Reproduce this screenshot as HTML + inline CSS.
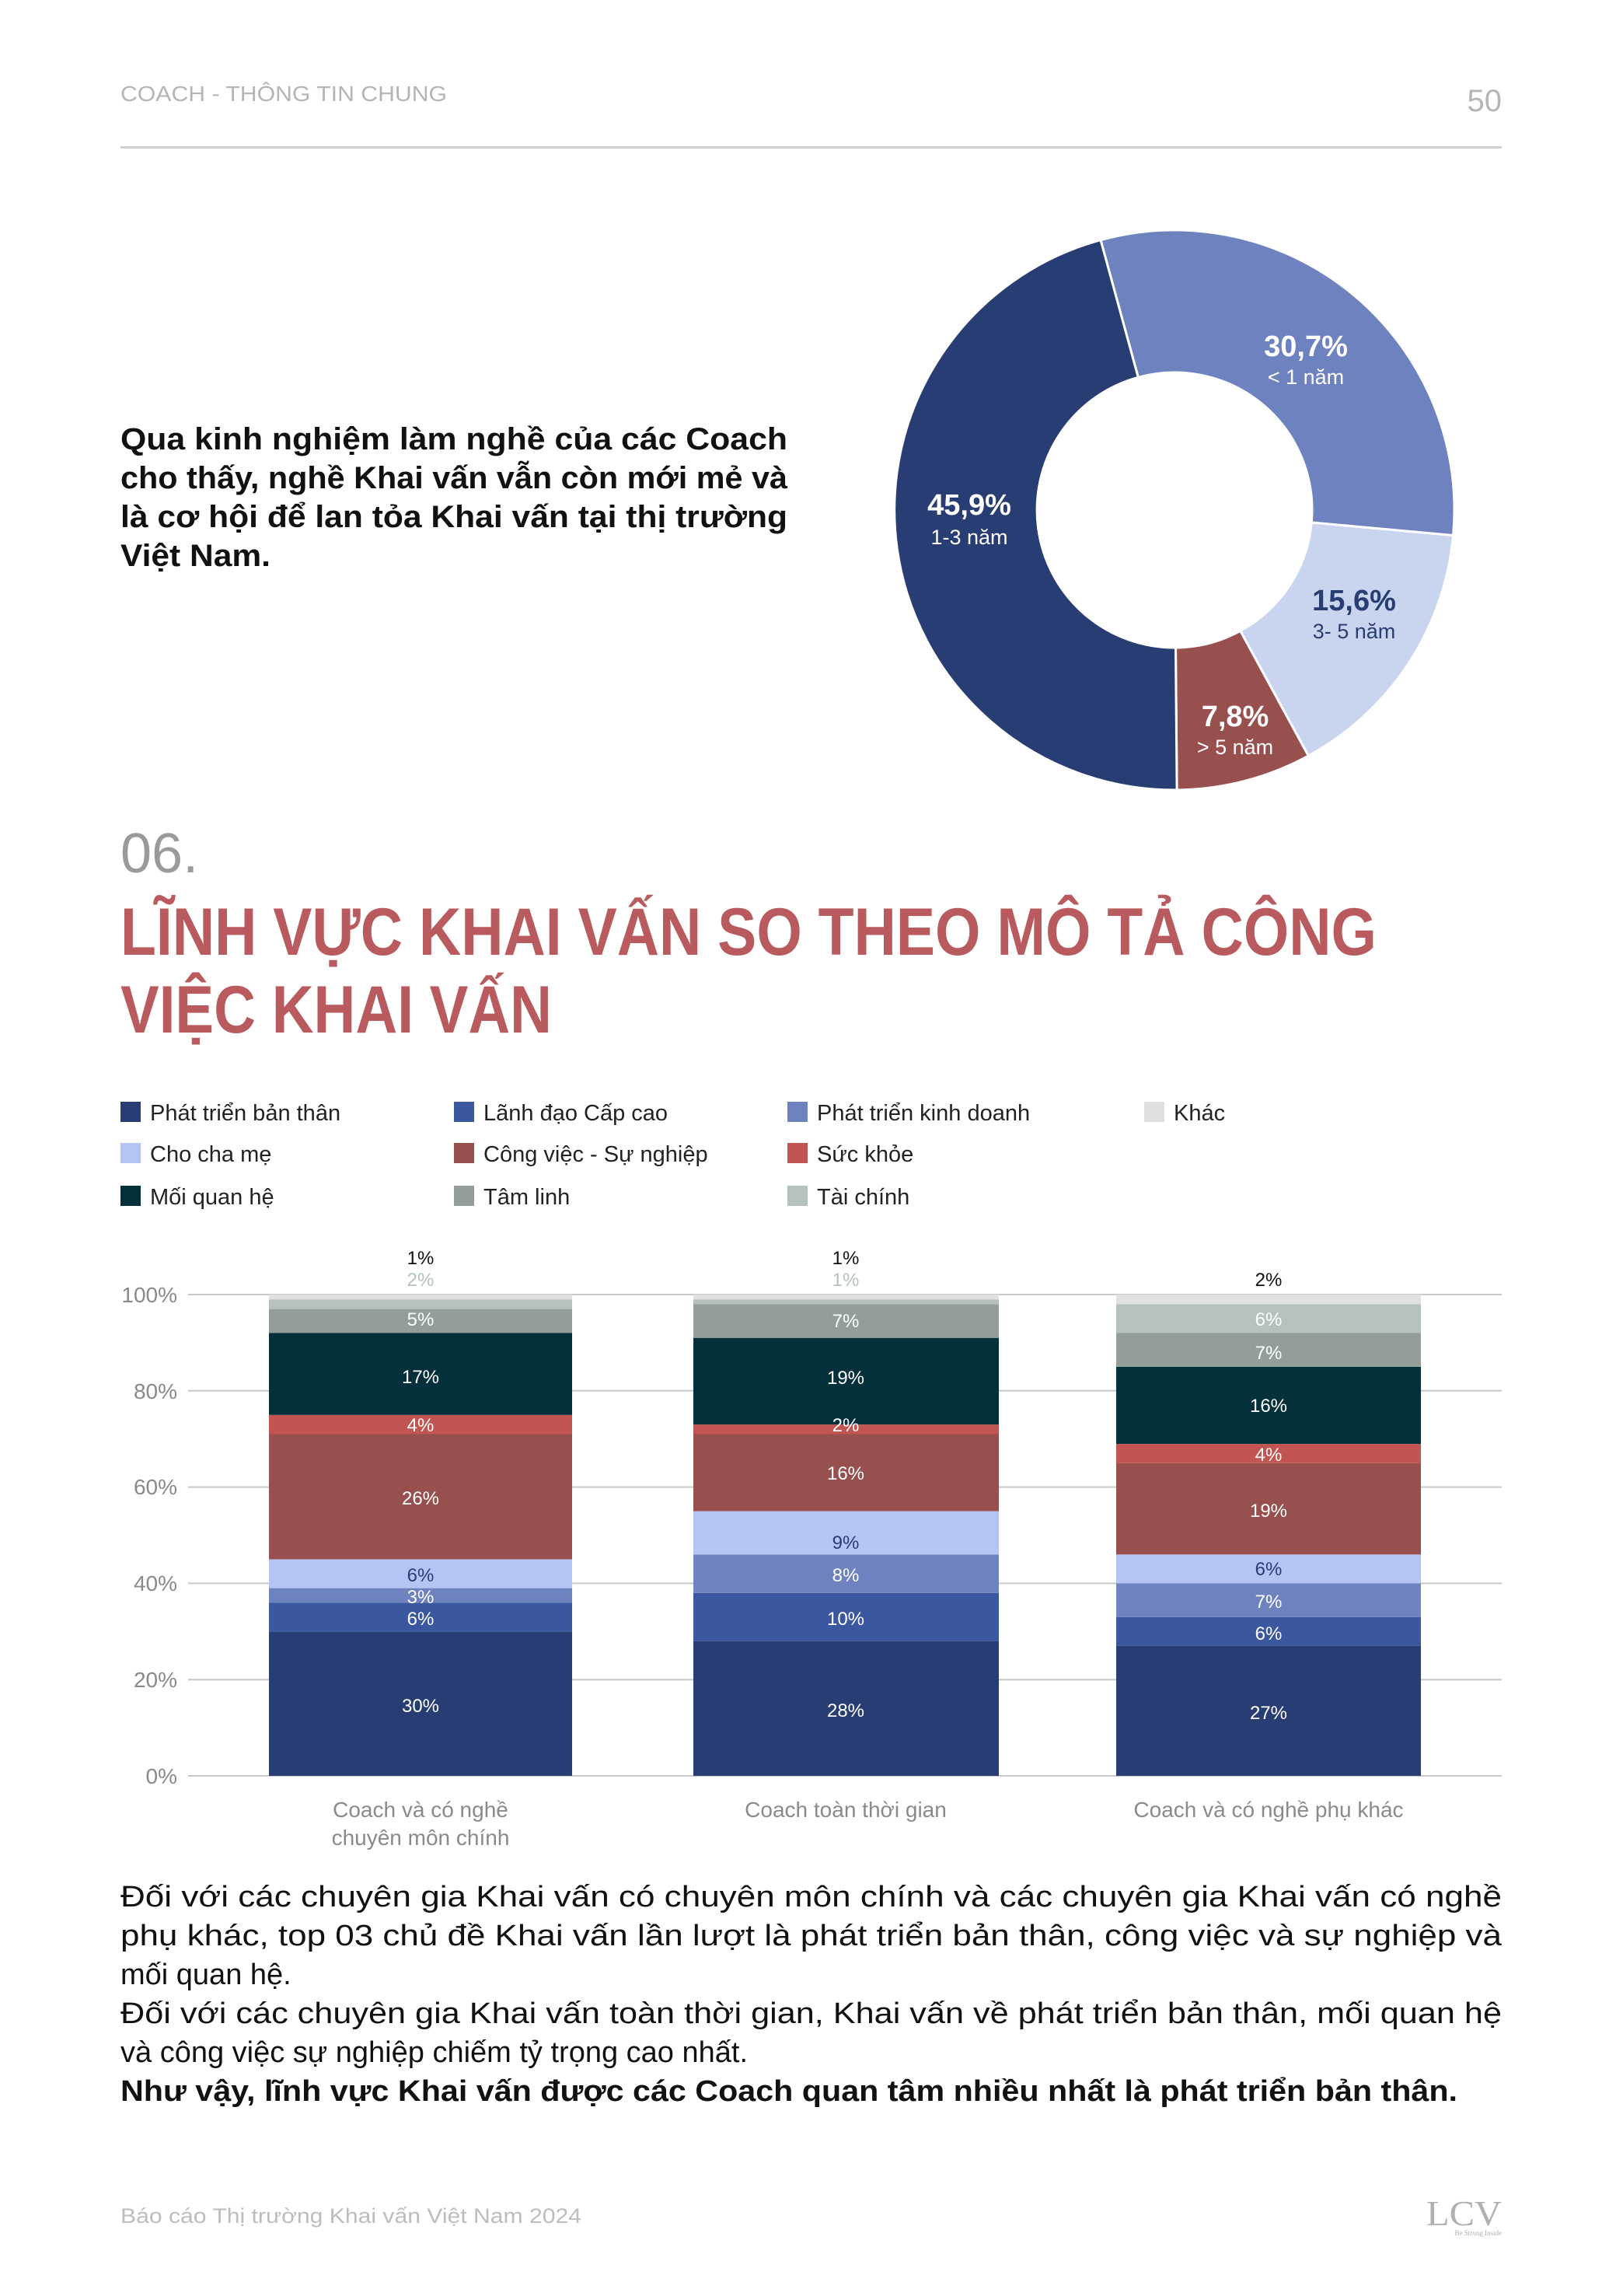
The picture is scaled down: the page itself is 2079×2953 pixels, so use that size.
<!DOCTYPE html>
<html><head><meta charset="utf-8"><style>
html,body{margin:0;padding:0;background:#fff}
svg{display:block}
text{font-family:"Liberation Sans","DejaVu Sans",sans-serif}
</style></head><body>
<svg width="2079" height="2953" viewBox="0 0 2079 2953" xmlns="http://www.w3.org/2000/svg">
<rect width="2079" height="2953" fill="#fff"/>
<!-- header -->
<text x="155" y="130" font-size="28" fill="#b5b5b5" textLength="420" lengthAdjust="spacingAndGlyphs">COACH - THÔNG TIN CHUNG</text>
<text x="1932" y="143" font-size="40" fill="#b5b5b5" text-anchor="end">50</text>
<rect x="155" y="188" width="1777" height="3" fill="#cfcfcf"/>
<!-- intro paragraph -->
<g font-size="40" font-weight="bold" fill="#111">
<text x="155" y="578" textLength="858" lengthAdjust="spacingAndGlyphs">Qua kinh nghiệm làm nghề của các Coach</text>
<text x="155" y="628" textLength="858" lengthAdjust="spacingAndGlyphs">cho thấy, nghề Khai vấn vẫn còn mới mẻ và</text>
<text x="155" y="678" textLength="858" lengthAdjust="spacingAndGlyphs">là cơ hội để lan tỏa Khai vấn tại thị trường</text>
<text x="155" y="728" textLength="193" lengthAdjust="spacingAndGlyphs">Việt Nam.</text>
</g>
<!-- donut -->
<g stroke="#fff" stroke-width="3" stroke-linejoin="round">
<path d="M1416,308.7 A360,360 0 0 1 1869.5,688.6 L1687.3,672 A177,177 0 0 0 1464.3,485.3 Z" fill="#6e82bf"/>
<path d="M1869.5,688.6 A360,360 0 0 1 1683.3,972.1 L1595.7,811.4 A177,177 0 0 0 1687.3,672 Z" fill="#c9d4ef"/>
<path d="M1683.3,972.1 A360,360 0 0 1 1514.1,1016 L1512.5,833 A177,177 0 0 0 1595.7,811.4 Z" fill="#98504e"/>
<path d="M1514.1,1016 A360,360 0 0 1 1416,308.7 L1464.3,485.3 A177,177 0 0 0 1512.5,833 Z" fill="#283d73"/>
</g>
<g text-anchor="middle">
<text x="1680" y="458" font-size="38" font-weight="bold" fill="#fff">30,7%</text>
<text x="1680" y="494" font-size="27" fill="#fff">&lt; 1 năm</text>
<text x="1247" y="662" font-size="38" font-weight="bold" fill="#fff">45,9%</text>
<text x="1247" y="700" font-size="27" fill="#fff">1-3 năm</text>
<text x="1742" y="785" font-size="38" font-weight="bold" fill="#283d73">15,6%</text>
<text x="1742" y="821" font-size="27" fill="#283d73">3- 5 năm</text>
<text x="1589" y="934" font-size="38" font-weight="bold" fill="#fff">7,8%</text>
<text x="1589" y="970" font-size="27" fill="#fff">&gt; 5 năm</text>
</g>
<!-- section title -->
<text x="155" y="1122" font-size="72" fill="#9a9a9a">06.</text>
<g font-size="86" font-weight="bold" fill="#b95b5e">
<text x="155" y="1228" textLength="1616" lengthAdjust="spacingAndGlyphs">LĨNH VỰC KHAI VẤN SO THEO MÔ TẢ CÔNG</text>
<text x="155" y="1328" textLength="555" lengthAdjust="spacingAndGlyphs">VIỆC KHAI VẤN</text>
</g>
<!-- legend -->
<g font-size="29" fill="#222">
<rect x="155" y="1417" width="26" height="26" fill="#283d73"/><text x="193" y="1441">Phát triển bản thân</text>
<rect x="584" y="1417" width="26" height="26" fill="#3b57a0"/><text x="622" y="1441">Lãnh đạo Cấp cao</text>
<rect x="1013" y="1417" width="26" height="26" fill="#6e82bf"/><text x="1051" y="1441">Phát triển kinh doanh</text>
<rect x="1472" y="1417" width="26" height="26" fill="#e0e0e0"/><text x="1510" y="1441">Khác</text>
<rect x="155" y="1470" width="26" height="26" fill="#b4c5f3"/><text x="193" y="1494">Cho cha mẹ</text>
<rect x="584" y="1470" width="26" height="26" fill="#98504e"/><text x="622" y="1494">Công việc - Sự nghiệp</text>
<rect x="1013" y="1470" width="26" height="26" fill="#c25452"/><text x="1051" y="1494">Sức khỏe</text>
<rect x="155" y="1525" width="26" height="26" fill="#04303c"/><text x="193" y="1549">Mối quan hệ</text>
<rect x="584" y="1525" width="26" height="26" fill="#939e99"/><text x="622" y="1549">Tâm linh</text>
<rect x="1013" y="1525" width="26" height="26" fill="#b3c2bc"/><text x="1051" y="1549">Tài chính</text>
</g>
<!-- grid -->
<g stroke="#c8c8c8" stroke-width="2">
<line x1="242" y1="1665" x2="1932" y2="1665"/>
<line x1="242" y1="1788.8" x2="1932" y2="1788.8"/>
<line x1="242" y1="1912.6" x2="1932" y2="1912.6"/>
<line x1="242" y1="2036.4" x2="1932" y2="2036.4"/>
<line x1="242" y1="2160.2" x2="1932" y2="2160.2"/>
<line x1="242" y1="2284" x2="1932" y2="2284"/>
</g>
<g font-size="28" fill="#8a8a8a" text-anchor="end">
<text x="228" y="1675">100%</text>
<text x="228" y="1799">80%</text>
<text x="228" y="1922">60%</text>
<text x="228" y="2046">40%</text>
<text x="228" y="2170">20%</text>
<text x="228" y="2294">0%</text>
</g>
<!-- bar 1 -->
<g>
<rect x="346" y="2098.3" width="390" height="185.7" fill="#283d73"/>
<rect x="346" y="2061.2" width="390" height="37.1" fill="#3b57a0"/>
<rect x="346" y="2042.6" width="390" height="18.6" fill="#6e82bf"/>
<rect x="346" y="2005.5" width="390" height="37.1" fill="#b4c5f3"/>
<rect x="346" y="1844.5" width="390" height="161" fill="#98504e"/>
<rect x="346" y="1819.8" width="390" height="24.7" fill="#c25452"/>
<rect x="346" y="1714.5" width="390" height="105.3" fill="#04303c"/>
<rect x="346" y="1683.6" width="390" height="30.9" fill="#939e99"/>
<rect x="346" y="1671.2" width="390" height="12.4" fill="#b3c2bc"/>
<rect x="346" y="1665" width="390" height="6.2" fill="#e0e0e0"/>
</g>
<!-- bar 2 -->
<g>
<rect x="892" y="2110.7" width="393" height="173.3" fill="#283d73"/>
<rect x="892" y="2048.8" width="393" height="61.9" fill="#3b57a0"/>
<rect x="892" y="1999.3" width="393" height="49.5" fill="#6e82bf"/>
<rect x="892" y="1943.6" width="393" height="55.7" fill="#b4c5f3"/>
<rect x="892" y="1844.5" width="393" height="99.1" fill="#98504e"/>
<rect x="892" y="1832.1" width="393" height="12.4" fill="#c25452"/>
<rect x="892" y="1720.7" width="393" height="111.4" fill="#04303c"/>
<rect x="892" y="1677.4" width="393" height="43.3" fill="#939e99"/>
<rect x="892" y="1671.2" width="393" height="6.2" fill="#b3c2bc"/>
<rect x="892" y="1665" width="393" height="6.2" fill="#e0e0e0"/>
</g>
<!-- bar 3 -->
<g>
<rect x="1436" y="2116.9" width="392" height="167.1" fill="#283d73"/>
<rect x="1436" y="2079.7" width="392" height="37.2" fill="#3b57a0"/>
<rect x="1436" y="2036.4" width="392" height="43.3" fill="#6e82bf"/>
<rect x="1436" y="1999.3" width="392" height="37.1" fill="#b4c5f3"/>
<rect x="1436" y="1881.7" width="392" height="117.6" fill="#98504e"/>
<rect x="1436" y="1857.1" width="392" height="24.6" fill="#c25452"/>
<rect x="1436" y="1757.9" width="392" height="99.2" fill="#04303c"/>
<rect x="1436" y="1714.5" width="392" height="43.4" fill="#939e99"/>
<rect x="1436" y="1677.4" width="392" height="37.1" fill="#b3c2bc"/>
<rect x="1436" y="1665" width="392" height="12.4" fill="#e0e0e0"/>
</g>
<!-- bar labels -->
<g font-size="24" text-anchor="middle" fill="#fff">
<text x="541" y="2202">30%</text><text x="541" y="2090">6%</text><text x="541" y="2062">3%</text>
<text x="541" y="2034" fill="#283d73">6%</text><text x="541" y="1935">26%</text><text x="541" y="1841">4%</text>
<text x="541" y="1779">17%</text><text x="541" y="1705">5%</text>
<text x="541" y="1654" fill="#b3c2bc">2%</text><text x="541" y="1626" fill="#111">1%</text>

<text x="1088" y="2208">28%</text><text x="1088" y="2090">10%</text><text x="1088" y="2034">8%</text>
<text x="1088" y="1992" fill="#283d73">9%</text><text x="1088" y="1903">16%</text><text x="1088" y="1841">2%</text>
<text x="1088" y="1780">19%</text><text x="1088" y="1707">7%</text>
<text x="1088" y="1654" fill="#b3c2bc">1%</text><text x="1088" y="1626" fill="#111">1%</text>

<text x="1632" y="2211">27%</text><text x="1632" y="2109">6%</text><text x="1632" y="2068">7%</text>
<text x="1632" y="2026" fill="#283d73">6%</text><text x="1632" y="1951">19%</text><text x="1632" y="1879">4%</text>
<text x="1632" y="1816">16%</text><text x="1632" y="1748">7%</text><text x="1632" y="1705">6%</text>
<text x="1632" y="1654" fill="#111">2%</text>
</g>
<!-- x labels -->
<g font-size="28" fill="#8a8a8a" text-anchor="middle">
<text x="541" y="2337">Coach và có nghề</text>
<text x="541" y="2373">chuyên môn chính</text>
<text x="1088" y="2337">Coach toàn thời gian</text>
<text x="1632" y="2337">Coach và có nghề phụ khác</text>
</g>
<!-- bottom paragraph -->
<g font-size="38" fill="#111">
<text x="155" y="2452" textLength="1777" lengthAdjust="spacingAndGlyphs">Đối với các chuyên gia Khai vấn có chuyên môn chính và các chuyên gia Khai vấn có nghề</text>
<text x="155" y="2502" textLength="1777" lengthAdjust="spacingAndGlyphs">phụ khác, top 03 chủ đề Khai vấn lần lượt là phát triển bản thân, công việc và sự nghiệp và</text>
<text x="155" y="2552">mối quan hệ.</text>
<text x="155" y="2602" textLength="1777" lengthAdjust="spacingAndGlyphs">Đối với các chuyên gia Khai vấn toàn thời gian, Khai vấn về phát triển bản thân, mối quan hệ</text>
<text x="155" y="2652">và công việc sự nghiệp chiếm tỷ trọng cao nhất.</text>
<text x="155" y="2702" font-weight="bold" textLength="1720" lengthAdjust="spacingAndGlyphs">Như vậy, lĩnh vực Khai vấn được các Coach quan tâm nhiều nhất là phát triển bản thân.</text>
</g>
<!-- footer -->
<text x="155" y="2859" font-size="27" fill="#bdbdbd" textLength="593" lengthAdjust="spacingAndGlyphs">Báo cáo Thị trường Khai vấn Việt Nam 2024</text>
<text x="1932" y="2862" font-size="46" fill="#b0b0b0" text-anchor="end" textLength="97" lengthAdjust="spacingAndGlyphs" style="font-family:'Liberation Serif',serif">LCV</text>
<text x="1932" y="2875" font-size="9" fill="#b0b0b0" text-anchor="end" style="font-family:'Liberation Serif',serif">Be Strong Inside</text>
</svg>
</body></html>
